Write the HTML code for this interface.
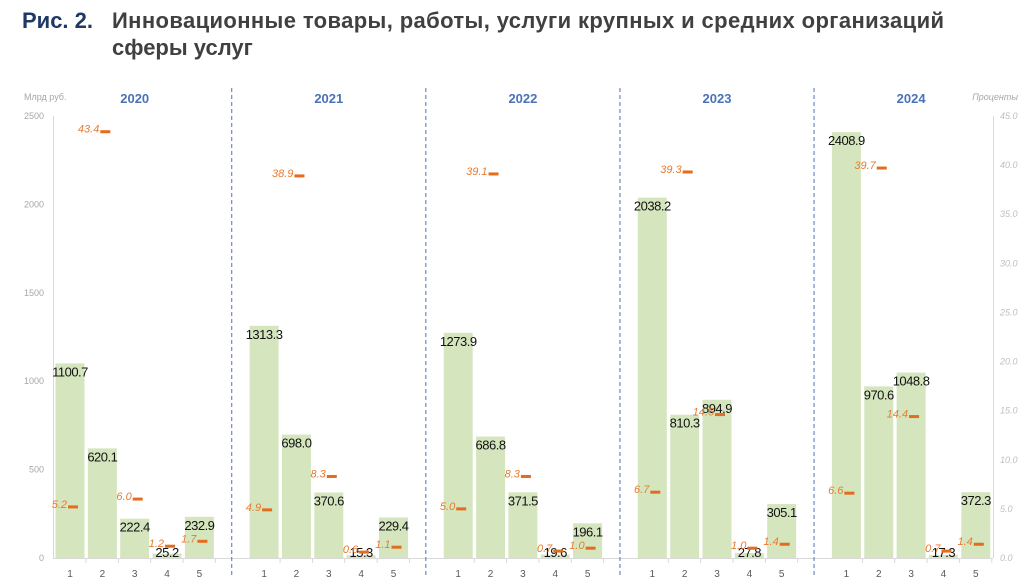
<!DOCTYPE html>
<html><head><meta charset="utf-8"><style>
body{margin:0;background:#fff;}
svg{display:block;font-family:"Liberation Sans",sans-serif;}
</style></head><body>
<svg id="chart" width="1024" height="585">
<text x="22" y="28" font-size="22" font-weight="bold" fill="#1f3864">Рис. 2.</text>
<text x="112" y="28" font-size="22" font-weight="bold" fill="#404040" textLength="832">Инновационные товары, работы, услуги крупных и средних организаций</text>
<text x="112" y="55" font-size="22" font-weight="bold" fill="#404040">сферы услуг</text>
<text x="24" y="100" font-size="9" fill="#a6a6a6">Млрд руб.</text>
<text x="1018" y="100" font-size="9" font-style="italic" fill="#a6a6a6" text-anchor="end">Проценты</text>
<g id="g"></g>
</svg>
<script>
const years=["2020","2021","2022","2023","2024"];
const cats=["1","2","3","4","5"];
const values=[[1100.7,620.1,222.4,25.2,232.9],[1313.3,698.0,370.6,15.3,229.4],[1273.9,686.8,371.5,19.6,196.1],[2038.2,810.3,894.9,27.8,305.1],[2408.9,970.6,1048.8,17.3,372.3]];
const shares=[[5.2,43.4,6.0,1.2,1.7],[4.9,38.9,8.3,0.6,1.1],[5.0,39.1,8.3,0.7,1.0],[6.7,39.3,14.6,1.0,1.4],[6.6,39.7,14.4,0.7,1.4]];
const leftTicks=[0,500,1000,1500,2000,2500];
const rightTicks=[0,5,10,15,20,25,30,35,40,45];
const NS="http://www.w3.org/2000/svg";
const g=document.getElementById('g');
const y0=558,yTop=116;
const yL=v=>y0-(v/2500)*(y0-yTop);
const yR=v=>y0-(v/45)*(y0-yTop);
const slot=32.35,x0=70;
const xC=(gi,ci)=>x0+(gi*6+ci)*slot;
function el(t,a,txt){const e=document.createElementNS(NS,t);for(const k in a)e.setAttribute(k,a[k]);if(txt!==undefined)e.textContent=txt;g.appendChild(e);return e;}
let e;
e=el('line',{x1:53.5,y1:yTop,x2:53.5,y2:y0,stroke:'#d9d9d9'});


e=el('line',{x1:993.5,y1:yTop,x2:993.5,y2:y0,stroke:'#d9d9d9'});


e=el('line',{x1:53,y1:y0+0.5,x2:993,y2:y0+0.5,stroke:'#d9d9d9'});


leftTicks.forEach(v=>{
 e=el('text',{x:44,y:yL(v)+3,'font-size':9,fill:'#a6a6a6','text-anchor':'end'},String(v));
 
 
});
rightTicks.forEach(v=>{
 e=el('text',{x:1000,y:yR(v)+3,'font-size':9,'font-style':'italic',fill:'#bfbfbf'},v.toFixed(1));
 
 
});
years.forEach((yr,gi)=>{
 const mid=(xC(gi,0)+xC(gi,4))/2;
 e=el('text',{x:mid,y:103,'font-size':13,'font-weight':'bold',fill:'#4a72b8','text-anchor':'middle'},yr);
 
 
 if(gi>0){
  const sx=xC(gi,-1);
  e=el('line',{x1:sx,y1:88,x2:sx,y2:575,stroke:'#4a72b8','stroke-dasharray':'4,3','stroke-width':1});
  
  
 }
 cats.forEach((c,ci)=>{
  const x=xC(gi,ci),v=values[gi][ci],top=yL(v);
  e=el('rect',{x:x-14.5,y:top,width:29,height:y0-top,fill:'#d5e6bf'});
  
  
  e=el('line',{x1:x+16,y1:y0,x2:x+16,y2:y0+5,stroke:'#d9d9d9'});
  
  
  e=el('text',{x:x,y:Math.min(top+13,557),'font-size':13,fill:'#111','text-anchor':'middle','letter-spacing':'-0.5'},v.toFixed(1));
  
  
  e=el('text',{x:x,y:577,'font-size':10,fill:'#595959','text-anchor':'middle'},c);
  
  
  const s=shares[gi][ci],ym=yR(s);
  e=el('rect',{x:x-2,y:ym-1.5,width:10,height:3,fill:'#e46c1e'});
  
  
  e=el('text',{x:x-3,y:ym+1,'font-size':11,'font-style':'italic',fill:'#e97a2e','text-anchor':'end'},s.toFixed(1));
  
  
 });
});
</script>
</body></html>
